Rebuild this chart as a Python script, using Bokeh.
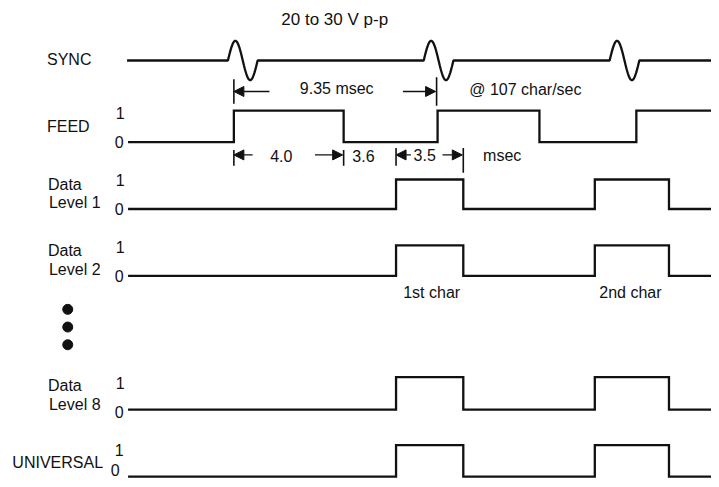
import numpy as np
from bokeh.plotting import figure
from bokeh.models import Range1d, Label, Arrow, NormalHead
from bokeh.embed import file_html
from bokeh.resources import INLINE

# ---------------- data (time in diagram units, logic levels 0/1) ----------------
trace_start = 129
trace_end = 730
sync_pulse_centers = [245, 443, 631]           # sync pulse times
sync_pulse_halfwidth = 15
feed_edges = [236, 347, 442, 545, 643]         # FEED toggles (starts at 0)
data_edges = [400, 468, 601, 676]              # data / universal toggles (starts at 0)

channel_names = ["FEED", "Data\nLevel 1", "Data\nLevel 2", "Data\nLevel 8", "UNIVERSAL"]
channel_edges = [feed_edges, data_edges, data_edges, data_edges, data_edges]

dim_top_labels = ["9.35 msec", "@ 107 char/sec"]
dim_bottom_labels = ["4.0", "3.6", "3.5", "msec"]
char_labels = ["1st char", "2nd char"]
sync_amp_label = "20 to 30 V p-p"

# ---------------- layout (reference-pixel coordinates) ----------------
W, H = 711, 479
FONT = "Liberation Sans"
INK = "#111111"
LW = 2.3

p = figure(width=W, height=H, output_backend="svg", toolbar_location=None,
           x_range=Range1d(0, 719), y_range=Range1d(487, 0),
           min_border=0, outline_line_color=None)
p.axis.visible = False
p.grid.visible = False
p.background_fill_color = "white"
p.border_fill_color = "white"


def lab(x, y, text, size="16px", align="left", baseline="middle"):
    p.add_layout(Label(x=x, y=y, text=text, text_font=FONT, text_font_size=size,
                       text_color=INK, text_align=align, text_baseline=baseline))


# SYNC trace
sync_base, sync_amp = 61, 20
xs, ys = [trace_start - 1], [sync_base]
for c in sync_pulse_centers:
    u = np.linspace(0, 1, 40)
    xs += list(c - sync_pulse_halfwidth + 2 * sync_pulse_halfwidth * u)
    ys += list(sync_base - sync_amp * np.sin(2 * np.pi * u))
xs.append(trace_end)
ys.append(sync_base)
p.line(xs, ys, line_color=INK, line_width=LW)
lab(47, 60, "SYNC")

# digital traces
row_low = [144, 212, 280, 416, 484]
row_high = [112, 182, 249, 383, 452]
for name, edges, lo, hi in zip(channel_names, channel_edges, row_low, row_high):
    lvl = 0
    xs, ys = [trace_start], [lvl]
    for e in edges:
        xs += [e, e]
        ys += [lvl, 1 - lvl]
        lvl = 1 - lvl
    xs.append(trace_end)
    ys.append(lvl)
    yy = [lo - v * (lo - hi) for v in ys]
    p.line(xs, yy, line_color=INK, line_width=LW, line_join="miter")

# channel names
lab(47, 128, channel_names[0])
for nm, yd, yl in zip(channel_names[1:4], [187, 254, 391], [205, 273, 411]):
    a, b = nm.split("\n")
    lab(48, yd, a)
    lab(49, yl, b)
lab(12, 470, channel_names[4])

# level marks "1" / "0"
for y1, y0 in zip([114, 183, 251, 389], [144, 212, 280, 418]):
    lab(121, y1, "1", align="center")
    lab(120, y0, "0", align="center")
lab(120, 457, "1", align="center")
lab(116, 477, "0", align="center")

# ellipsis dots
p.scatter([68, 68, 68], [314, 332, 350], size=10, color=INK)

# dimension markers
ticks_x0 = [236, 441, 236, 347, 400, 468]
ticks_y0 = [80, 78, 152, 152, 150, 150]
ticks_y1 = [105, 107, 168, 168, 168, 175]
p.segment(ticks_x0, ticks_y0, ticks_x0, ticks_y1, line_color=INK, line_width=1.6)

arrows = [(272, 236, 92.5), (407, 440, 92.5),
          (255, 236, 157), (318, 346, 157), (415, 400, 157), (447, 467, 157)]
for xa, xb, y in arrows:
    p.add_layout(Arrow(end=NormalHead(size=10, fill_color=INK, line_color=INK, line_width=1),
                       x_start=xa, y_start=y, x_end=xb, y_end=y,
                       line_color=INK, line_width=1.4))

lab(340, 89, dim_top_labels[0], align="center")
lab(474, 90, dim_top_labels[1])
lab(284, 158, dim_bottom_labels[0], align="center")
lab(367, 158, dim_bottom_labels[1], align="center")
lab(429, 157, dim_bottom_labels[2], align="center")
lab(488, 158, dim_bottom_labels[3])

lab(338, 19, sync_amp_label, size="17px", align="center")
lab(436, 297, char_labels[0], align="center")
lab(637, 297, char_labels[1], align="center")

open("out.html", "w").write(file_html(p, INLINE))
